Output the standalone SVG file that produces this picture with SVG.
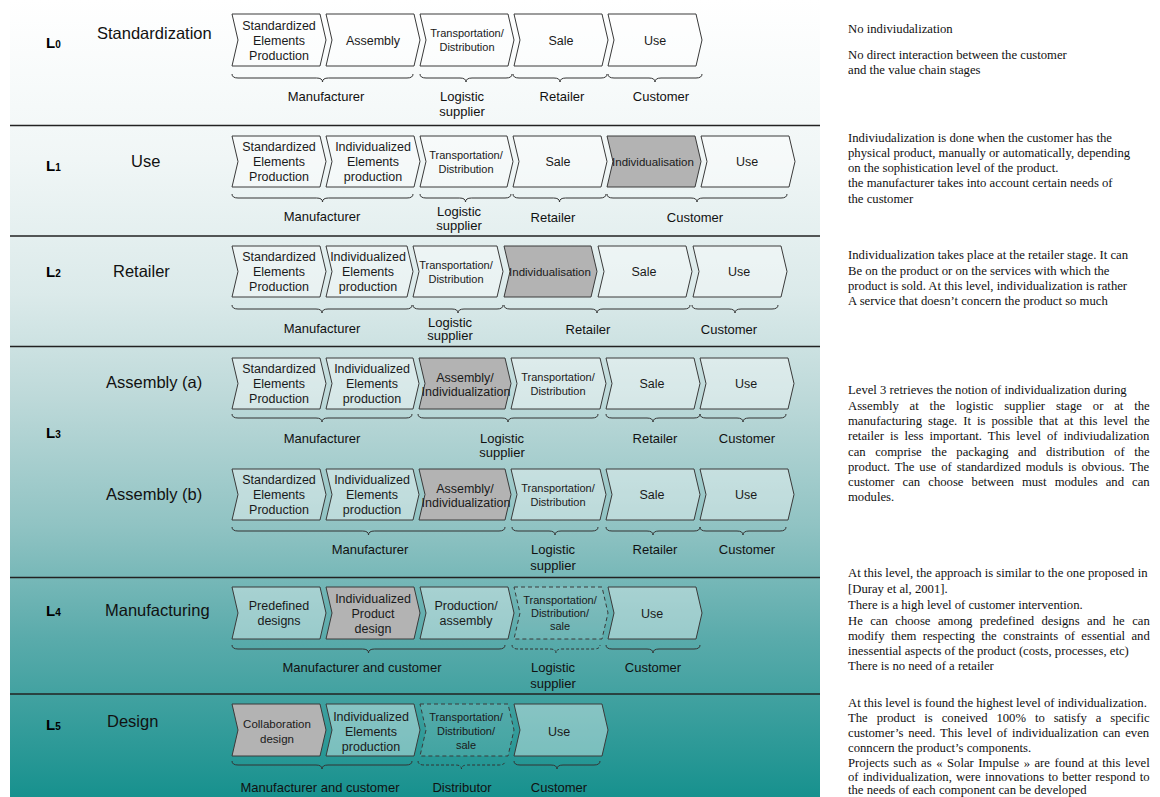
<svg xmlns="http://www.w3.org/2000/svg" width="1160" height="797" viewBox="0 0 1160 797">
<defs>
<linearGradient id="bg" x1="0" y1="0" x2="0" y2="797" gradientUnits="userSpaceOnUse">
<stop offset="0" stop-color="#ffffff"/>
<stop offset="0.2" stop-color="#f0f6f6"/>
<stop offset="0.37" stop-color="#dbeaea"/>
<stop offset="0.5" stop-color="#bdd9d9"/>
<stop offset="0.66" stop-color="#90c3c3"/>
<stop offset="0.8" stop-color="#5aabab"/>
<stop offset="1" stop-color="#17918e"/>
</linearGradient>
<style>
.ch{fill:#ffffff;fill-opacity:.38;stroke:#3a3a3a;stroke-width:1}
.gr{fill:#b3b3b3;fill-opacity:1}
.da{fill:#ffffff;fill-opacity:.12;stroke-dasharray:4 3}
.t{font-family:"Liberation Sans",Arial,sans-serif;font-size:12.5px;fill:#1a1a1a;text-anchor:middle}
.ts{font-size:11px}
.tm{font-size:11.5px}
.lb{font-family:"Liberation Sans",Arial,sans-serif;font-size:13px;fill:#111;text-anchor:middle}
.nm{font-family:"Liberation Sans",Arial,sans-serif;font-size:16.5px;fill:#111}
.lv{font-family:"Liberation Sans",Arial,sans-serif;font-size:15px;font-weight:bold;fill:#000}
.sub{font-size:10px}
.br{fill:none;stroke:#333;stroke-width:1}
.bd{stroke-dasharray:3 2}
.sep{stroke:#222;stroke-width:1.5}
.rt{font-family:"Liberation Serif","Times New Roman",serif;font-size:12.7px;fill:#111}
</style>
</defs>

<rect x="10" y="0" width="810" height="797" fill="url(#bg)"/>
<g id="separators">
<line class="sep" x1="10" y1="125.5" x2="820" y2="125.5"/>
<line class="sep" x1="10" y1="236" x2="820" y2="236"/>
<line class="sep" x1="10" y1="346.5" x2="820" y2="346.5"/>
<line class="sep" x1="10" y1="577.5" x2="820" y2="577.5"/>
<line class="sep" x1="10" y1="694" x2="820" y2="694"/>
</g>

<g id="level-labels">
<text class="lv" x="46" y="48">L<tspan class="sub">0</tspan></text>
<text class="lv" x="46" y="171">L<tspan class="sub">1</tspan></text>
<text class="lv" x="46" y="277">L<tspan class="sub">2</tspan></text>
<text class="lv" x="46" y="438">L<tspan class="sub">3</tspan></text>
<text class="lv" x="46" y="616">L<tspan class="sub">4</tspan></text>
<text class="lv" x="46" y="730">L<tspan class="sub">5</tspan></text>
<text class="nm" x="97" y="39">Standardization</text>
<text class="nm" x="131" y="167">Use</text>
<text class="nm" x="113" y="277">Retailer</text>
<text class="nm" x="106" y="388">Assembly (a)</text>
<text class="nm" x="106" y="500">Assembly (b)</text>
<text class="nm" x="105" y="616">Manufacturing</text>
<text class="nm" x="107" y="727">Design</text>
</g>

<!-- L0 -->
<g id="l0-std"><path class="ch" d="M232 14H320L326 40L320 66H232L238 40Z"/><text class="t" x="279"><tspan x="279" y="29.5">Standardized</tspan><tspan x="279" y="44.5">Elements</tspan><tspan x="279" y="59.5">Production</tspan></text></g>
<g id="l0-asm"><path class="ch" d="M326 14H414L420 40L414 66H326L332 40Z"/><text class="t" x="373" y="44.5">Assembly</text></g>
<g id="l0-trans"><path class="ch" d="M420 14H508L514 40L508 66H420L426 40Z"/><text class="t ts"><tspan x="467" y="37">Transportation/</tspan><tspan x="467" y="51">Distribution</tspan></text></g>
<g id="l0-sale"><path class="ch" d="M514 14H602L608 40L602 66H514L520 40Z"/><text class="t" x="561" y="44.5">Sale</text></g>
<g id="l0-use"><path class="ch" d="M608 14H696L702 40L696 66H608L614 40Z"/><text class="t" x="655" y="44.5">Use</text></g>

<!-- L1 -->
<g id="l1-std"><path class="ch" d="M232 136H320L326 161.5L320 187H232L238 161.5Z"/><text class="t"><tspan x="279" y="151">Standardized</tspan><tspan x="279" y="166">Elements</tspan><tspan x="279" y="181">Production</tspan></text></g>
<g id="l1-ind"><path class="ch" d="M326 136H414L420 161.5L414 187H326L332 161.5Z"/><text class="t"><tspan x="373" y="151">Individualized</tspan><tspan x="373" y="166">Elements</tspan><tspan x="373" y="181">production</tspan></text></g>
<g id="l1-trans"><path class="ch" d="M420 136H507L513 161.5L507 187H420L426 161.5Z"/><text class="t ts"><tspan x="466" y="158.5">Transportation/</tspan><tspan x="466" y="172.5">Distribution</tspan></text></g>
<g id="l1-sale"><path class="ch" d="M513 136H601L607 161.5L601 187H513L519 161.5Z"/><text class="t" x="558" y="166">Sale</text></g>
<g id="l1-indiv"><path class="ch gr" d="M607 136H695L701 161.5L695 187H607L613 161.5Z"/><text class="t tm" x="653" y="165.5">Individualisation</text></g>
<g id="l1-use"><path class="ch" d="M701 136H789L795 161.5L789 187H701L707 161.5Z"/><text class="t" x="747" y="166">Use</text></g>

<!-- L2 -->
<g id="l2-std"><path class="ch" d="M232 246H320L326 271.5L320 297H232L238 271.5Z"/><text class="t"><tspan x="279" y="261">Standardized</tspan><tspan x="279" y="276">Elements</tspan><tspan x="279" y="291">Production</tspan></text></g>
<g id="l2-ind"><path class="ch" d="M326 246H407L413 271.5L407 297H326L332 271.5Z"/><text class="t"><tspan x="368" y="261">Individualized</tspan><tspan x="368" y="276">Elements</tspan><tspan x="368" y="291">production</tspan></text></g>
<g id="l2-trans"><path class="ch" d="M413 246H497L503 271.5L497 297H413L419 271.5Z"/><text class="t ts"><tspan x="456" y="268.5">Transportation/</tspan><tspan x="456" y="282.5">Distribution</tspan></text></g>
<g id="l2-indiv"><path class="ch gr" d="M504 246H591L597 271.5L591 297H504L510 271.5Z"/><text class="t tm" x="550" y="275.5">Individualisation</text></g>
<g id="l2-sale"><path class="ch" d="M598 246H686L692 271.5L686 297H598L604 271.5Z"/><text class="t" x="644" y="276">Sale</text></g>
<g id="l2-use"><path class="ch" d="M693 246H781L787 271.5L781 297H693L699 271.5Z"/><text class="t" x="739" y="276">Use</text></g>

<!-- L3a -->
<g id="l3a-std"><path class="ch" d="M232 358H320L326 383.5L320 409H232L238 383.5Z"/><text class="t"><tspan x="279" y="373">Standardized</tspan><tspan x="279" y="388">Elements</tspan><tspan x="279" y="403">Production</tspan></text></g>
<g id="l3a-ind"><path class="ch" d="M326 358H413L419 383.5L413 409H326L332 383.5Z"/><text class="t"><tspan x="372" y="373">Individualized</tspan><tspan x="372" y="388">Elements</tspan><tspan x="372" y="403">production</tspan></text></g>
<g id="l3a-asm"><path class="ch gr" d="M419 358H505L511 383.5L505 409H419L425 383.5Z"/><text class="t"><tspan x="465" y="381.5">Assembly/</tspan><tspan x="466" y="395.5">Individualization</tspan></text></g>
<g id="l3a-trans"><path class="ch" d="M511 358H600L606 383.5L600 409H511L517 383.5Z"/><text class="t ts"><tspan x="558" y="380.5">Transportation/</tspan><tspan x="558" y="394.5">Distribution</tspan></text></g>
<g id="l3a-sale"><path class="ch" d="M606 358H694L700 383.5L694 409H606L612 383.5Z"/><text class="t" x="652" y="388">Sale</text></g>
<g id="l3a-use"><path class="ch" d="M700 358H788L794 383.5L788 409H700L706 383.5Z"/><text class="t" x="746" y="388">Use</text></g>

<!-- L3b -->
<g id="l3b-std"><path class="ch" d="M232 469H320L326 494.5L320 520H232L238 494.5Z"/><text class="t"><tspan x="279" y="484">Standardized</tspan><tspan x="279" y="499">Elements</tspan><tspan x="279" y="514">Production</tspan></text></g>
<g id="l3b-ind"><path class="ch" d="M326 469H413L419 494.5L413 520H326L332 494.5Z"/><text class="t"><tspan x="372" y="484">Individualized</tspan><tspan x="372" y="499">Elements</tspan><tspan x="372" y="514">production</tspan></text></g>
<g id="l3b-asm"><path class="ch gr" d="M419 469H505L511 494.5L505 520H419L425 494.5Z"/><text class="t"><tspan x="465" y="492.5">Assembly/</tspan><tspan x="466" y="506.5">Individualization</tspan></text></g>
<g id="l3b-trans"><path class="ch" d="M511 469H600L606 494.5L600 520H511L517 494.5Z"/><text class="t ts"><tspan x="558" y="491.5">Transportation/</tspan><tspan x="558" y="505.5">Distribution</tspan></text></g>
<g id="l3b-sale"><path class="ch" d="M606 469H694L700 494.5L694 520H606L612 494.5Z"/><text class="t" x="652" y="499">Sale</text></g>
<g id="l3b-use"><path class="ch" d="M700 469H788L794 494.5L788 520H700L706 494.5Z"/><text class="t" x="746" y="499">Use</text></g>

<!-- L4 -->
<g id="l4-pre"><path class="ch" d="M232 587H320L326 613L320 639H232L238 613Z"/><text class="t"><tspan x="279" y="610">Predefined</tspan><tspan x="279" y="625">designs</tspan></text></g>
<g id="l4-ipd"><path class="ch gr" d="M326 587H414L420 613L414 639H326L332 613Z"/><text class="t"><tspan x="373" y="602.5">Individualized</tspan><tspan x="373" y="617.5">Product</tspan><tspan x="373" y="632.5">design</tspan></text></g>
<g id="l4-prod"><path class="ch" d="M420 587H508L514 613L508 639H420L426 613Z"/><text class="t"><tspan x="466" y="610">Production/</tspan><tspan x="466" y="625">assembly</tspan></text></g>
<g id="l4-trans"><path class="ch da" d="M514 587H602L608 613L602 639H514L520 613Z"/><text class="t ts"><tspan x="560" y="604">Transportation/</tspan><tspan x="560" y="617">Distribution/</tspan><tspan x="560" y="630">sale</tspan></text></g>
<g id="l4-use"><path class="ch" d="M608 587H696L702 613L696 639H608L614 613Z"/><text class="t" x="652" y="617.5">Use</text></g>

<!-- L5 -->
<g id="l5-col"><path class="ch gr" d="M232 704H320L326 730L320 756H232L238 730Z"/><text class="t tm"><tspan x="277" y="728">Collaboration</tspan><tspan x="277" y="743">design</tspan></text></g>
<g id="l5-ind"><path class="ch" d="M326 704H414L420 730L414 756H326L332 730Z"/><text class="t"><tspan x="371" y="720.5">Individualized</tspan><tspan x="371" y="735.5">Elements</tspan><tspan x="371" y="750.5">production</tspan></text></g>
<g id="l5-trans"><path class="ch da" d="M420 704H508L514 730L508 756H420L426 730Z"/><text class="t ts"><tspan x="466" y="721">Transportation/</tspan><tspan x="466" y="735">Distribution/</tspan><tspan x="466" y="749">sale</tspan></text></g>
<g id="l5-use"><path class="ch" d="M514 704H602L608 730L602 756H514L520 730Z"/><text class="t" x="559" y="735.5">Use</text></g>

<g id="connectors">
<path class="br" d="M232 74q0 4 6 4H316.5q6 0 6 4q0-4 6-4H407q6 0 6-4"/>
<path class="br" d="M420 74q0 4 6 4H460q6 0 6 4q0-4 6-4H506q6 0 6-4"/>
<path class="br" d="M513 74q0 4 6 4H554q6 0 6 4q0-4 6-4H601q6 0 6-4"/>
<path class="br" d="M608 74q0 4 6 4H649q6 0 6 4q0-4 6-4H696q6 0 6-4"/>

<path class="br" d="M232 194q0 4 6 4H316.5q6 0 6 4q0-4 6-4H407q6 0 6-4"/>
<path class="br" d="M420 194q0 4 6 4H459.5q6 0 6 4q0-4 6-4H505q6 0 6-4"/>
<path class="br" d="M513 194q0 4 6 4H553.5q6 0 6 4q0-4 6-4H600q6 0 6-4"/>
<path class="br" d="M607 194q0 4 6 4H691q6 0 6 4q0-4 6-4H781q6 0 6-4"/>

<path class="br" d="M232 305q0 4 6 4H316q6 0 6 4q0-4 6-4H406q6 0 6-4"/>
<path class="br" d="M413 305q0 4 6 4H452q6 0 6 4q0-4 6-4H497q6 0 6-4"/>
<path class="br" d="M504 305q0 4 6 4H591q6 0 6 4q0-4 6-4H684q6 0 6-4"/>
<path class="br" d="M692 305q0 4 6 4H729q6 0 6 4q0-4 6-4H772q6 0 6-4"/>

<path class="br" d="M232 414q0 4 6 4H316q6 0 6 4q0-4 6-4H406q6 0 6-4"/>
<path class="br" d="M418 414q0 4 6 4H502q6 0 6 4q0-4 6-4H592q6 0 6-4"/>
<path class="br" d="M606 414q0 4 6 4H647q6 0 6 4q0-4 6-4H694q6 0 6-4"/>
<path class="br" d="M700 414q0 4 6 4H737q6 0 6 4q0-4 6-4H780q6 0 6-4"/>

<path class="br" d="M232 527q0 4 6 4H362.5q6 0 6 4q0-4 6-4H499q6 0 6-4"/>
<path class="br" d="M512 527q0 4 6 4H549q6 0 6 4q0-4 6-4H592q6 0 6-4"/>
<path class="br" d="M606 527q0 4 6 4H647q6 0 6 4q0-4 6-4H694q6 0 6-4"/>
<path class="br" d="M700 527q0 4 6 4H737q6 0 6 4q0-4 6-4H780q6 0 6-4"/>

<path class="br" d="M232 645q0 4 6 4H362.5q6 0 6 4q0-4 6-4H499q6 0 6-4"/>
<path class="br bd" d="M512 645q0 4 6 4H550q6 0 6 4q0-4 6-4H594q6 0 6-4"/>
<path class="br" d="M606 645q0 4 6 4H647q6 0 6 4q0-4 6-4H694q6 0 6-4"/>

<path class="br" d="M232 761q0 4 6 4H316q6 0 6 4q0-4 6-4H406q6 0 6-4"/>
<path class="br bd" d="M418 761q0 4 6 4H455.5q6 0 6 4q0-4 6-4H499q6 0 6-4"/>
<path class="br" d="M514 761q0 4 6 4H551q6 0 6 4q0-4 6-4H594q6 0 6-4"/>
</g>

<g id="actor-labels">
<text class="lb" x="326" y="101">Manufacturer</text>
<text class="lb"><tspan x="462" y="101">Logistic</tspan><tspan x="462" y="116">supplier</tspan></text>
<text class="lb" x="562" y="101">Retailer</text>
<text class="lb" x="661" y="101">Customer</text>

<text class="lb" x="322" y="221">Manufacturer</text>
<text class="lb"><tspan x="459" y="215.5">Logistic</tspan><tspan x="459" y="229.5">supplier</tspan></text>
<text class="lb" x="553" y="222">Retailer</text>
<text class="lb" x="695" y="222">Customer</text>

<text class="lb" x="322" y="333">Manufacturer</text>
<text class="lb"><tspan x="450" y="327">Logistic</tspan><tspan x="450" y="340">supplier</tspan></text>
<text class="lb" x="588" y="333.5">Retailer</text>
<text class="lb" x="729" y="333.5">Customer</text>

<text class="lb" x="322" y="443">Manufacturer</text>
<text class="lb"><tspan x="502" y="443">Logistic</tspan><tspan x="502" y="457">supplier</tspan></text>
<text class="lb" x="655" y="443">Retailer</text>
<text class="lb" x="747" y="443">Customer</text>

<text class="lb" x="370" y="553.5">Manufacturer</text>
<text class="lb"><tspan x="553" y="553.5">Logistic</tspan><tspan x="553" y="569.5">supplier</tspan></text>
<text class="lb" x="655" y="553.5">Retailer</text>
<text class="lb" x="747" y="553.5">Customer</text>

<text class="lb" x="362" y="671.5">Manufacturer and customer</text>
<text class="lb"><tspan x="553" y="671.5">Logistic</tspan><tspan x="553" y="687.5">supplier</tspan></text>
<text class="lb" x="653" y="671.5">Customer</text>

<text class="lb" x="320" y="791.5">Manufacturer and customer</text>
<text class="lb" x="462" y="791.5">Distributor</text>
<text class="lb" x="559" y="791.5">Customer</text>
</g>

<g id="descriptions">
<text class="rt" x="848" y="32.5">No indiviudalization</text>
<text class="rt" x="848" y="58.5">No direct interaction between the customer</text>
<text class="rt" x="848" y="73.5">and the value chain stages</text>

<text class="rt" x="848" y="142">Indiviudalization is done when the customer has the</text>
<text class="rt" x="848" y="157">physical product, manually or automatically, depending</text>
<text class="rt" x="848" y="172">on the sophistication level of the product.</text>
<text class="rt" x="848" y="187">the manufacturer takes into account certain needs of</text>
<text class="rt" x="848" y="203">the customer</text>

<text class="rt" x="848" y="259">Individualization takes place at the retailer stage. It can</text>
<text class="rt" x="848" y="275">Be on the product or on the services with which the</text>
<text class="rt" x="848" y="290">product is sold. At this level, individualization is rather</text>
<text class="rt" x="848" y="305">A service that doesn’t concern the product so much</text>

<text class="rt" x="848" y="394">Level 3 retrieves the notion of individualization during</text>
<text class="rt" x="848" y="410" word-spacing="7.68">Assembly at the logistic supplier stage or at the</text>
<text class="rt" x="848" y="425" word-spacing="2.82">manufacturing stage. It is possible that at this level the</text>
<text class="rt" x="848" y="440" word-spacing="2.83">retailer is less important. This level of indiviudalization</text>
<text class="rt" x="848" y="456" word-spacing="6.41">can comprise the packaging and distribution of the</text>
<text class="rt" x="848" y="471" word-spacing="1.77">product. The use of standardized moduls is obvious. The</text>
<text class="rt" x="848" y="486" word-spacing="4.9">customer can choose between must modules and can</text>
<text class="rt" x="848" y="501">modules.</text>

<text class="rt" x="848" y="577">At this level, the approach is similar to the one proposed in</text>
<text class="rt" x="848" y="593">[Duray et al, 2001].</text>
<text class="rt" x="848" y="609">There is a high level of customer intervention.</text>
<text class="rt" x="848" y="625" word-spacing="4.25">He can choose among predefined designs and he can</text>
<text class="rt" x="848" y="640" word-spacing="3.19">modify them respecting the constraints of essential and</text>
<text class="rt" x="848" y="655">inessential aspects of the product (costs, processes, etc)</text>
<text class="rt" x="848" y="670">There is no need of a retailer</text>

<text class="rt" x="848" y="707">At this level is found the highest level of individualization.</text>
<text class="rt" x="848" y="722" word-spacing="5.74">The product is coneived 100% to satisfy a specific</text>
<text class="rt" x="848" y="737" word-spacing="1.62">customer’s need. This level of individualization can even</text>
<text class="rt" x="848" y="752">conncern the product’s components.</text>
<text class="rt" x="848" y="767" word-spacing="1.32">Projects such as « Solar Impulse » are found at this level</text>
<text class="rt" x="848" y="781" word-spacing="1.0">of individualization, were innovations to better respond to</text>
<text class="rt" x="848" y="794">the needs of each component can be developed</text>
</g>
</svg>
